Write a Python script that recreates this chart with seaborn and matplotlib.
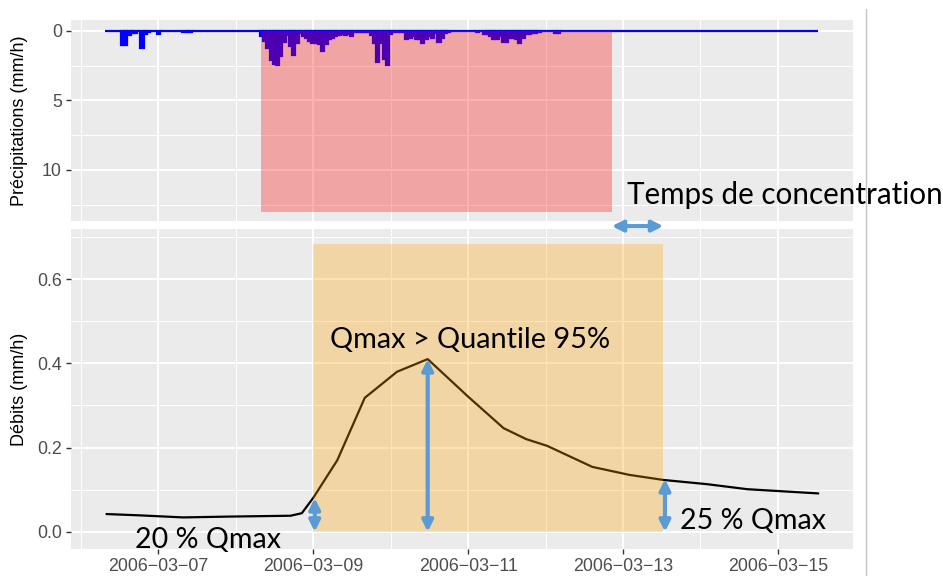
"""Rain / runoff event plot: hourly precipitation (top) and discharge (bottom)"""

import pandas as pd
import seaborn as sns
import matplotlib as mpl
import matplotlib.pyplot as plt
import matplotlib.dates as mdates
from matplotlib.lines import Line2D

mpl.use("agg")

# --- data ------------------------------------------------------------------
ORIGIN = pd.Timestamp("2006-03-06 00:00")
SERIES_START = "2006-03-06 08:00"
SERIES_END = "2006-03-15 12:00"

# hours after 2006-03-06 00:00 with rain, and rain depth (mm/h)
rain_hours = [13, 14, 15, 16, 17, 19, 20, 21, 24, 32, 33, 34,
              56, 57, 58, 59, 60, 61, 62, 63, 64, 65, 66, 67, 68, 69, 70,
              71, 72, 73, 74, 75, 76, 77, 78, 79, 80, 81, 82, 83, 84, 85,
              86, 87, 88, 89, 90, 91, 92, 93, 94, 95, 96, 97, 98, 99, 100,
              101, 102, 103, 104, 105, 106, 107, 108, 109, 110, 111, 112,
              113, 114, 123, 125, 126, 127, 128, 129, 130, 131, 132, 133,
              134, 135, 136, 137, 138, 139, 140, 141, 142, 147, 148]
rain_mm = [1.0, 1.0, 0.3, 0.15, 0.15, 1.25, 0.2, 0.1, 0.25, 0.1, 0.1, 0.1,
           0.36, 0.7, 1.25, 2.1, 2.35, 2.47, 1.8, 0.8, 0.3, 1.1, 1.7, 0.9,
           0.15, 0.35, 0.5, 0.75, 0.85, 0.85, 0.95, 1.45, 0.95, 0.6, 0.5,
           0.36, 0.3, 0.25, 0.3, 0.25, 0.36, 0.05, 0.05, 0.1, 0.1, 0.1, 0.3,
           0.9, 2.25, 0.9, 2.0, 2.47, 0.2, 0.05, 0.05, 0.05, 0.1, 0.6, 0.5,
           0.36, 0.55, 0.6, 0.9, 0.6, 0.36, 0.5, 0.17, 0.77, 0.5, 0.17, 0.1,
           0.1, 0.25, 0.25, 0.36, 0.55, 0.55, 0.36, 0.8, 0.8, 0.5, 0.5, 0.6,
           0.85, 0.5, 0.25, 0.25, 0.12, 0.12, 0.05, 0.15, 0.15]

flow_time = ["2006-03-06 08:00", "2006-03-06 18:00", "2006-03-07 07:45",
             "2006-03-07 22:00", "2006-03-08 17:00", "2006-03-08 20:30",
             "2006-03-09 00:00", "2006-03-09 07:30", "2006-03-09 16:00",
             "2006-03-10 02:00", "2006-03-10 11:30", "2006-03-11 00:00",
             "2006-03-11 11:00", "2006-03-11 18:00", "2006-03-12 00:30",
             "2006-03-12 14:30", "2006-03-13 02:00", "2006-03-13 12:30",
             "2006-03-14 02:00", "2006-03-14 14:30", "2006-03-15 12:30"]
flow_mmh = [0.042, 0.039, 0.034, 0.036, 0.038, 0.044, 0.080, 0.170, 0.318,
            0.380, 0.410, 0.321, 0.246, 0.220, 0.204, 0.154, 0.135, 0.123,
            0.113, 0.101, 0.091]

rain_event = ("2006-03-08 08:00", "2006-03-12 20:30", 13)
flow_event = ("2006-03-09 00:00", "2006-03-13 12:30", 0.683)

# double arrows: (time, low, high)
arrows = [("2006-03-09 00:30", 0.0, 0.080),
          ("2006-03-10 11:30", 0.0, 0.410),
          ("2006-03-13 13:00", 0.0, 0.125)]

XLIM = ("2006-03-05 21:00", "2006-03-15 23:15")

# --- build frames -----------------------------------------------------------
rain = pd.DataFrame({"time": pd.date_range(SERIES_START, SERIES_END, freq="h")})
rain["mm"] = 0.0
rain_idx = ORIGIN + pd.to_timedelta(rain_hours, unit="h")
rain = rain.set_index("time")
rain.loc[rain_idx, "mm"] = rain_mm
rain = rain.reset_index()

flow = pd.DataFrame({"time": pd.to_datetime(flow_time), "q": flow_mmh})

# --- style -----------------------------------------------------------------
sns.set_theme(style="darkgrid", rc={
    "axes.facecolor": "#EBEBEB",
    "grid.color": "white",
    "axes.edgecolor": "none",
    "xtick.color": "#333333",
    "ytick.color": "#333333",
    "xtick.labelcolor": "#4D4D4D",
    "ytick.labelcolor": "#4D4D4D",
    "xtick.bottom": True,
    "ytick.left": True,
    "xtick.major.size": 3.5,
    "ytick.major.size": 3.5,
    "xtick.major.width": 1.0,
    "ytick.major.width": 1.0,
    "xtick.major.pad": 3,
    "ytick.major.pad": 3,
    "xtick.labelsize": 12.8,
    "ytick.labelsize": 12.8,
    "axes.labelsize": 13,
    "text.color": "black",
    "axes.labelcolor": "black",
})
plt.rcParams["font.family"] = ["Liberation Sans", "DejaVu Sans"]

W, H = 943, 576
fig = plt.figure(figsize=(W / 100, H / 100), dpi=100)
fig.patch.set_facecolor("white")


def px_axes(x0, y0, x1, y1):
    return fig.add_axes([x0 / W, 1 - y1 / H, (x1 - x0) / W, (y1 - y0) / H])


ax_p = px_axes(71, 20, 853, 221)
ax_q = px_axes(71, 229, 853, 549)

xlim = [mdates.date2num(pd.Timestamp(t)) for t in XLIM]
for ax in (ax_p, ax_q):
    ax.set_xlim(xlim)
    ax.xaxis.set_major_locator(mdates.DayLocator(bymonthday=[7, 9, 11, 13, 15]))
    ax.xaxis.set_minor_locator(mdates.DayLocator(bymonthday=[6, 8, 10, 12, 14]))
    ax.grid(which="major", color="white", linewidth=1.4)
    ax.grid(which="minor", color="white", linewidth=0.7)
    ax.tick_params(which="minor", length=0)
    ax.set_axisbelow(True)

# --- precipitation panel ---------------------------------------------------
ax_p.bar(rain["time"], rain["mm"], width=1 / 24, color="#0000FF",
         edgecolor="#0000FF", linewidth=1.6, zorder=2)
ax_p.fill_between(pd.to_datetime(list(rain_event[:2])), 0, rain_event[2],
                  color="red", alpha=0.3, linewidth=0, zorder=3)
ax_p.set_ylim(13.67, -0.79)
ax_p.set_yticks([0, 5, 10])
ax_p.set_yticks([2.5, 7.5, 12.5], minor=True)
ax_p.tick_params(axis="x", length=0, labelbottom=False)
ax_p.set_xlabel("")
ax_p.set_ylabel("Précipitations (mm/h)")
ax_p.yaxis.set_label_coords(-0.055, 0.5)

# --- discharge panel -------------------------------------------------------
sns.lineplot(data=flow, x="time", y="q", ax=ax_q, color="black",
             linewidth=1.6, zorder=2)
ax_q.fill_between(pd.to_datetime(list(flow_event[:2])), 0, flow_event[2],
                  color="orange", alpha=0.3, linewidth=0, zorder=3)
ax_q.set_ylim(-0.041, 0.719)
ax_q.set_yticks([0.0, 0.2, 0.4, 0.6])
ax_q.set_yticks([0.1, 0.3, 0.5, 0.7], minor=True)
ax_q.yaxis.set_major_formatter(mpl.ticker.FormatStrFormatter("%.1f"))
ax_q.xaxis.set_major_formatter(
    mpl.ticker.FuncFormatter(lambda v, _: mdates.num2date(v).strftime("%Y−%m−%d")))
ax_q.set_xlim(xlim)
ax_q.set_xlabel("")
ax_q.set_ylabel("Débits (mm/h)")
ax_q.yaxis.set_label_coords(-0.055, 0.5)

ARROW_BLUE = "#5B9BD5"
for t, lo, hi in arrows:
    xt = mdates.date2num(pd.Timestamp(t))
    ax_q.annotate("", xy=(xt, hi), xytext=(xt, lo),
                  arrowprops=dict(arrowstyle="<|-|>", color=ARROW_BLUE,
                                  lw=3, mutation_scale=16,
                                  shrinkA=0, shrinkB=0), zorder=5)

# horizontal arrow between panels: end of rain -> end of flow event
ax_q.annotate("", xy=(mdates.date2num(pd.Timestamp(flow_event[1])), 1.009),
              xytext=(mdates.date2num(pd.Timestamp(rain_event[1])), 1.009),
              xycoords=("data", "axes fraction"),
              textcoords=("data", "axes fraction"),
              arrowprops=dict(arrowstyle="<|-|>", color=ARROW_BLUE, lw=3,
                              mutation_scale=16, shrinkA=0, shrinkB=0),
              annotation_clip=False, zorder=5)

NOTE_FONT = ["Lato", "DejaVu Sans"]
ax_q.text(mdates.date2num(pd.Timestamp("2006-03-09 05:20")), 0.437,
          "Qmax > Quantile 95%", fontsize=20.8, family=NOTE_FONT,
          color="black", va="baseline", ha="left", zorder=6)
ax_q.text(mdates.date2num(pd.Timestamp("2006-03-06 16:50")), -0.039,
          "20 % Qmax", fontsize=20.6, family=NOTE_FONT, color="black",
          va="baseline", ha="left", clip_on=False, zorder=6)
ax_q.text(mdates.date2num(pd.Timestamp("2006-03-13 17:40")), 0.006,
          "25 % Qmax", fontsize=20.6, family=NOTE_FONT, color="black",
          va="baseline", ha="left", zorder=6)
fig.text(627 / W, 1 - 204 / H, "Temps de concentration", fontsize=21.3,
         family=NOTE_FONT, color="black", va="baseline", ha="left")

# slide border on the right
fig.add_artist(Line2D([865.5 / W, 865.5 / W], [0, 1 - 9 / H],
                      transform=fig.transFigure, color="#C4C4C4", lw=1))

fig.savefig("out.png", dpi=100)
